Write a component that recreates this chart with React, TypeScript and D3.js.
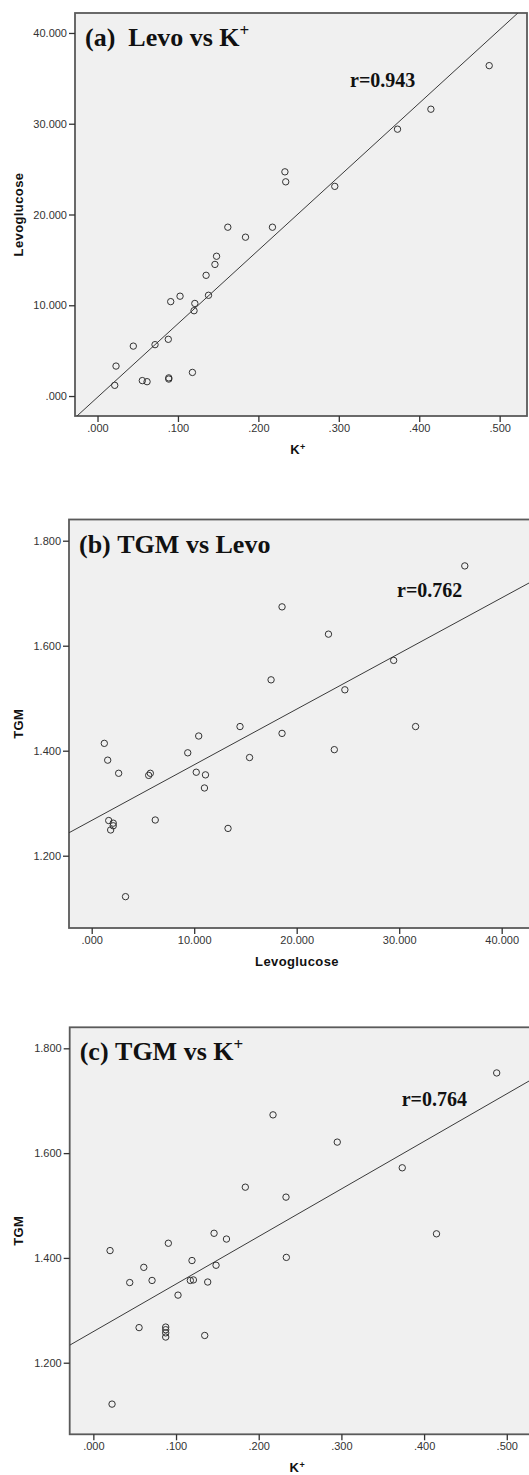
import React, { useRef, useEffect } from "react";
import * as d3 from "d3";

// (a) Levoglucose vs K+
const kA = [0.487, 0.4145, 0.373, 0.295, 0.233, 0.234, 0.162, 0.184, 0.2175, 0.148, 0.146, 0.135, 0.138, 0.1026, 0.091, 0.121, 0.12, 0.088, 0.0715, 0.0445, 0.023, 0.0214, 0.0557, 0.0616, 0.0886, 0.0886, 0.118];
const levoA = [36.4, 31.6, 29.4, 23.1, 24.7, 23.6, 18.6, 17.5, 18.6, 15.4, 14.5, 13.3, 11.1, 11.0, 10.4, 10.2, 9.4, 6.25, 5.66, 5.5, 3.3, 1.18, 1.7, 1.58, 2.0, 1.87, 2.6];

// (b) TGM vs Levoglucose
const levoB = [36.4, 18.57, 23.1, 29.46, 17.5, 24.7, 14.47, 31.6, 18.57, 10.44, 1.23, 23.67, 9.37, 15.4, 1.56, 2.63, 5.56, 5.72, 10.2, 11.1, 11.0, 1.66, 2.1, 2.1, 1.85, 6.2, 13.3, 3.3];
const tgmB = [1.752, 1.674, 1.622, 1.572, 1.535, 1.516, 1.446, 1.446, 1.433, 1.428, 1.414, 1.402, 1.396, 1.387, 1.382, 1.357, 1.353, 1.357, 1.359, 1.354, 1.329, 1.267, 1.262, 1.257, 1.249, 1.268, 1.252, 1.122];

// (c) TGM vs K+
const kC = [0.4878, 0.2173, 0.295, 0.3736, 0.1838, 0.233, 0.146, 0.415, 0.161, 0.0907, 0.0202, 0.2334, 0.1193, 0.1484, 0.061, 0.044, 0.071, 0.1173, 0.121, 0.1383, 0.1024, 0.0553, 0.0875, 0.0875, 0.0875, 0.0875, 0.1347, 0.0226];
const tgmC = [1.753, 1.673, 1.621, 1.572, 1.535, 1.516, 1.447, 1.446, 1.436, 1.428, 1.414, 1.401, 1.395, 1.386, 1.382, 1.353, 1.357, 1.357, 1.358, 1.354, 1.329, 1.267, 1.268, 1.263, 1.257, 1.249, 1.252, 1.121];

const kTicks = [0, 0.1, 0.2, 0.3, 0.4, 0.5];
const levoTicks = [0, 10, 20, 30, 40];
const tgmTicks = [1.2, 1.4, 1.6, 1.8];

// fitted lines: [intercept, slope]
const fitA = [-0.134, 81.0];
const fitB = [1.2672, 0.0106];
const fitC = [1.2594, 0.9075];

const rValues = ["r=0.943", "r=0.762", "r=0.764"];

const fmt = (v) => {
  const s = d3.format(".3f")(v);
  return s.startsWith("0.") ? s.slice(1) : s;
};

const SANS = "Liberation Sans, Arial, sans-serif";
const SERIF = "Liberation Serif, Times New Roman, serif";

function Panel({ id, box, xDomain, yDomain, xs, ys, xTicks, yTicks, fit, tag, title, titleSup, rLabel, rPos, xTitle, xSup, yTitle }) {
  const gx = useRef(null);
  const gy = useRef(null);

  const x = d3.scaleLinear().domain(xDomain).range([box.left, box.right]);
  const y = d3.scaleLinear().domain(yDomain).range([box.bottom, box.top]);

  useEffect(() => {
    const styleAxis = (g) => {
      g.select(".domain").remove();
      g.attr("font-size", 11).attr("font-family", SANS);
      g.selectAll("text").attr("fill", "#333");
      g.selectAll("line").attr("stroke", "#333").attr("stroke-width", 1.3);
    };
    d3.select(gx.current)
      .call(d3.axisBottom(x).tickValues(xTicks).tickSize(6).tickPadding(2).tickSizeOuter(0).tickFormat(fmt))
      .call(styleAxis);
    d3.select(gy.current)
      .call(d3.axisLeft(y).tickValues(yTicks).tickSize(6).tickPadding(2).tickSizeOuter(0).tickFormat(fmt))
      .call(styleAxis);
  }, []);

  const line = d3.line().x((d) => x(d)).y((d) => y(fit[0] + fit[1] * d));
  const w = box.right - box.left;
  const h = box.bottom - box.top;

  return (
    <g>
      <defs>
        <clipPath id={"clip-" + id}>
          <rect x={box.left} y={box.top} width={w} height={h} />
        </clipPath>
      </defs>
      <rect x={box.left} y={box.top} width={w} height={h} fill="#f0f0f0" stroke="#5a5a5a" strokeWidth={1.8} />
      <path d={line(xDomain)} fill="none" stroke="#3a3a3a" strokeWidth={1} clipPath={`url(#clip-${id})`} />
      {xs.map((v, i) => (
        <circle key={i} cx={x(v)} cy={y(ys[i])} r={3.2} fill="none" stroke="#333" strokeWidth={1} />
      ))}
      <g ref={gx} transform={`translate(0,${box.bottom})`} />
      <g ref={gy} transform={`translate(${box.left},0)`} />
      <text x={box.left + 10} y={box.top + 33} fontFamily={SERIF} fontWeight="bold" fontSize={26} fill="#111">
        {tag + "\u00a0" + title}
        {titleSup && <tspan fontSize={17} dy={-10}>+</tspan>}
      </text>
      <text x={box.left + rPos[0]} y={box.top + rPos[1]} fontFamily={SERIF} fontWeight="bold" fontSize={20} fill="#111">
        {rLabel}
      </text>
      <text x={(box.left + box.right) / 2 - 3} y={box.bottom + 38} textAnchor="middle" fontFamily={SANS} fontWeight="bold" fontSize={13} fill="#111" letterSpacing={0.4}>
        {xTitle}
        {xSup && <tspan fontSize={9} dy={-4}>+</tspan>}
      </text>
      <text transform={`translate(22.5,${(box.top + box.bottom) / 2}) rotate(-90)`} textAnchor="middle" fontFamily={SANS} fontWeight="bold" fontSize={13} fill="#111" letterSpacing={0.4}>
        {yTitle}
      </text>
    </g>
  );
}

export default function App() {
  return (
    <svg width={529} height={1475} style={{ position: "absolute", left: 0, top: 0, background: "#fff" }}>
      <Panel
        id="a"
        box={{ left: 75, right: 527, top: 13, bottom: 416 }}
        xDomain={[-0.028, 0.534]}
        yDomain={[-2.2, 42.2]}
        xs={kA}
        ys={levoA}
        xTicks={kTicks}
        yTicks={levoTicks}
        fit={fitA}
        tag="(a)"
        title={"\u00a0Levo vs K"}
        titleSup={true}
        rLabel={rValues[0]}
        rPos={[275, 74]}
        xTitle="K"
        xSup={true}
        yTitle="Levoglucose"
      />
      <Panel
        id="b"
        box={{ left: 69, right: 531, top: 519.5, bottom: 928 }}
        xDomain={[-2.215, 42.86]}
        yDomain={[1.0623, 1.8404]}
        xs={levoB}
        ys={tgmB}
        xTicks={levoTicks}
        yTicks={tgmTicks}
        fit={fitB}
        tag="(b)"
        title="TGM vs Levo"
        titleSup={false}
        rLabel={rValues[1]}
        rPos={[328, 77]}
        xTitle="Levoglucose"
        xSup={false}
        yTitle="TGM"
      />
      <Panel
        id="c"
        box={{ left: 69.7, right: 531, top: 1027.3, bottom: 1434.3 }}
        xDomain={[-0.0286, 0.5293]}
        yDomain={[1.0634, 1.8401]}
        xs={kC}
        ys={tgmC}
        xTicks={kTicks}
        yTicks={tgmTicks}
        fit={fitC}
        tag="(c)"
        title="TGM vs K"
        titleSup={true}
        rLabel={rValues[2]}
        rPos={[332, 79]}
        xTitle="K"
        xSup={true}
        yTitle="TGM"
      />
    </svg>
  );
}
